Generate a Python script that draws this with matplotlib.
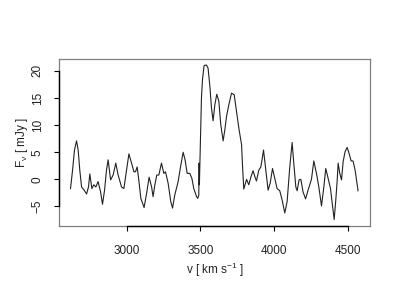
import numpy as np
import matplotlib
matplotlib.use('Agg')
import matplotlib.pyplot as plt

# spectrum (velocity in km/s, flux density in mJy)
vel = [2620, 2634, 2647, 2661, 2672, 2683, 2695, 2710, 2729, 2742,
       2751, 2765, 2778, 2792, 2807, 2824, 2837, 2851, 2864, 2875,
       2892, 2909, 2927, 2943, 2966, 2982, 3000, 3016, 3034, 3050,
       3061, 3072, 3083, 3097, 3119, 3136, 3153, 3170, 3180, 3192,
       3205, 3219, 3237, 3253, 3264, 3282, 3300, 3312, 3327, 3350,
       3366, 3384, 3397, 3411, 3429, 3443, 3456, 3475, 3483, 3490,
       3492, 3494, 3504, 3508, 3515, 3526, 3542, 3553, 3565, 3576,
       3587, 3599, 3612, 3626, 3639, 3655, 3667, 3678, 3694, 3712,
       3730, 3746, 3763, 3780, 3788, 3795, 3814, 3829, 3843, 3858,
       3870, 3881, 3897, 3911, 3929, 3942, 3960, 3974, 3990, 4005,
       4021, 4039, 4055, 4073, 4089, 4107, 4123, 4134, 4148, 4157,
       4170, 4182, 4197, 4214, 4231, 4254, 4270, 4288, 4304, 4322,
       4338, 4351, 4367, 4383, 4397, 4408, 4419, 4428, 4435, 4446,
       4458, 4469, 4482, 4496, 4509, 4523, 4536, 4550, 4570]
flux = [-1.7, 1.7, 5.4, 7.1, 5.4, 1.7, -1.4, -1.9, -2.7, -1.4,
        1.0, -1.7, -1.0, -1.4, -0.4, -2.3, -4.6, -2.0, 1.7, 3.6,
        -0.1, 0.8, 3.0, 0.8, -1.4, -1.7, 1.7, 4.7, 3.0, 1.4,
        1.4, 2.3, -0.1, -3.5, -5.2, -2.6, 0.4, -1.4, -3.2, -1.0,
        0.8, 0.8, 3.0, 1.1, 1.4, -0.7, -4.1, -5.3, -2.9, -0.4,
        2.3, 5.0, 3.6, 1.1, 1.1, 0.2, -1.7, -3.2, -3.5, -2.9,
        3.0, -1.0, 10.1, 15.0, 18.4, 21.0, 21.1, 20.5, 17.2, 13.2,
        10.8, 13.8, 15.7, 14.4, 10.1, 7.1, 9.2, 11.6, 13.8, 15.9,
        15.6, 12.5, 9.2, 6.4, 1.7, -1.8, 0.0, -1.0, 0.4, 1.6,
        0.5, -0.3, 1.7, 2.3, 5.4, 2.3, -2.0, -0.7, 2.0, 0.2,
        -1.7, -2.1, -3.8, -6.2, -4.1, 2.3, 6.8, 3.0, -1.4, -2.1,
        -0.1, 0.0, -2.3, -3.6, -2.0, 0.0, 3.4, 1.1, -1.4, -4.9,
        -1.4, 2.0, 0.2, -1.7, -4.8, -7.4, -3.8, -0.4, 3.0, 1.1,
        -0.1, 3.3, 5.1, 5.9, 4.8, 3.4, 3.4, 1.7, -2.1]

xticks = [3000, 3500, 4000, 4500]
yticks = [-5, 0, 5, 10, 15, 20]

plt.rcParams['font.family'] = ['Liberation Sans', 'DejaVu Sans']
plt.rcParams['mathtext.fontset'] = 'custom'
plt.rcParams['mathtext.rm'] = 'Liberation Sans'
plt.rcParams['mathtext.it'] = 'Liberation Sans'
plt.rcParams['font.size'] = 8.5

fig = plt.figure(figsize=(4, 3), dpi=100)
ax = fig.add_axes([0.1475, 0.2467, 0.925 - 0.1475, 0.8033 - 0.2467])

ax.plot(vel, flux, '-', color='#222222', linewidth=0.8)

# R-style frame: grey box, black axis lines over the tick range
for s in ax.spines.values():
    s.set_color('#7f7f7f')
    s.set_linewidth(0.9)
ax.set_xlim(2542, 4651)
ax.set_ylim(-8.6, 22.2)
ax.plot([xticks[0], xticks[-1]], [-8.6, -8.6], color='black', lw=1.0,
        clip_on=False, zorder=5)
ax.plot([2542, 2542], [yticks[0], yticks[-1]], color='black', lw=1.0,
        clip_on=False, zorder=5)

ax.set_xticks(xticks)
ax.set_yticks(yticks)
ax.tick_params(axis='both', direction='out', length=3.5, width=0.8,
               colors='black', pad=10)
ax.tick_params(axis='x', labelcolor='#222222')
ax.tick_params(axis='y', labelcolor='#222222', pad=7.5)
for lab in ax.get_yticklabels():
    lab.set_rotation(90)
    lab.set_va('center')

ax.set_xlabel(r'v [ km s$^{\mathregular{-1}}$ ]', labelpad=3, color='#222222')
ax.set_ylabel(r'F$_{\nu}$ [ mJy ]', labelpad=1, color='#222222')

plt.savefig('out.png', dpi=100)
